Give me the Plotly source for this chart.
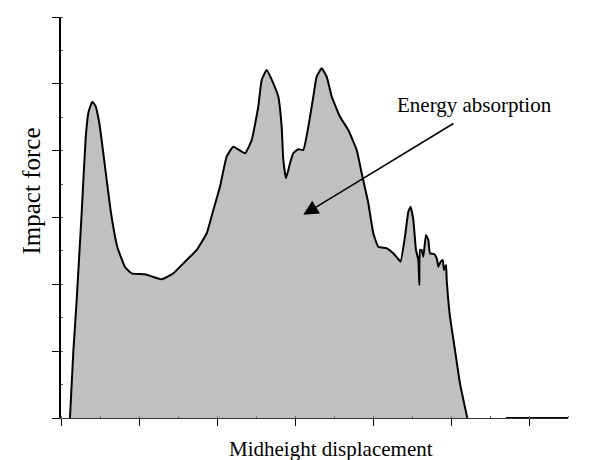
import plotly.graph_objects as go

# Midheight displacement (arbitrary units) and impact force (arbitrary units)
displacement = [
    0.115, 0.158, 0.201, 0.265, 0.317, 0.353, 0.401, 0.442, 0.491, 0.586,
    0.641, 0.722, 0.821, 0.906, 1.077, 1.291, 1.440, 1.590, 1.740, 1.868,
    1.953, 2.038, 2.124, 2.209, 2.359, 2.445, 2.529, 2.573, 2.637, 2.722,
    2.786, 2.829, 2.850, 2.885, 2.936, 2.978, 3.042, 3.106, 3.171, 3.235,
    3.278, 3.342, 3.406, 3.471, 3.577, 3.683, 3.791, 3.855, 3.940, 4.004,
    4.068, 4.176, 4.260, 4.324, 4.353, 4.410, 4.453, 4.483, 4.517, 4.551,
    4.581, 4.594, 4.603, 4.624, 4.645, 4.679, 4.709, 4.731, 4.782, 4.817,
    4.837, 4.868, 4.894, 4.910, 4.936, 4.945, 4.987, 5.051, 5.115, 5.209,
]
force = [
    0.000, 0.992, 1.766, 3.068, 4.205, 4.579, 4.733, 4.669, 4.414, 3.561,
    3.068, 2.559, 2.259, 2.165, 2.150, 2.075, 2.165, 2.339, 2.514, 2.764,
    3.112, 3.461, 3.910, 4.060, 3.961, 4.160, 4.658, 5.058, 5.207, 5.008,
    4.808, 4.359, 3.861, 3.587, 3.811, 3.961, 4.021, 4.010, 4.359, 4.808,
    5.107, 5.233, 5.107, 4.808, 4.508, 4.309, 4.010, 3.662, 3.213, 2.764,
    2.563, 2.539, 2.464, 2.379, 2.339, 2.713, 3.087, 3.162, 2.963, 2.514,
    2.364, 1.990, 2.514, 2.514, 2.414, 2.738, 2.663, 2.464, 2.454, 2.390,
    2.264, 2.339, 2.364, 2.215, 2.289, 2.065, 1.516, 1.017, 0.519, 0.000,
]

# Residual zero-force tail after failure
tail_displacement = [5.705, 6.5]
tail_force = [0.0, 0.0]

x_ticks = [0, 1, 2, 3, 4, 5, 6]
y_ticks = [0, 1, 2, 3, 4, 5, 6]

serif = "Liberation Serif"

fig = go.Figure()
fig.add_trace(go.Scatter(
    x=displacement, y=force, mode="lines", fill="tozeroy",
    fillcolor="#c0c0c0", line=dict(color="black", width=2, shape="spline", smoothing=0.4),
    hoverinfo="skip", showlegend=False,
))
fig.add_trace(go.Scatter(
    x=tail_displacement, y=tail_force, mode="lines",
    line=dict(color="black", width=2), hoverinfo="skip", showlegend=False,
))

fig.update_layout(
    width=601, height=460,
    margin=dict(l=61, r=33, t=17, b=42),
    paper_bgcolor="white", plot_bgcolor="white",
    xaxis=dict(
        range=[0, 6.5], tickvals=x_ticks, showticklabels=False,
        ticks="outside", ticklen=7, tickwidth=1.3, tickcolor="black",
        showline=True, linecolor="#333", linewidth=1,
        showgrid=False, zeroline=False,
        minor=dict(dtick=0.5, tick0=0, ticks="inside", ticklen=2, tickcolor="#777", showgrid=False),
    ),
    yaxis=dict(
        range=[0, 6], tickvals=y_ticks, showticklabels=False,
        ticks="outside", ticklen=7, tickwidth=1.3, tickcolor="black",
        showline=True, linecolor="black", linewidth=1.5,
        showgrid=False, zeroline=False,
        minor=dict(dtick=0.5, tick0=0, ticks="inside", ticklen=2, tickcolor="#555", showgrid=False),
    ),
    annotations=[
        dict(
            x=3.106, y=3.04, xref="x", yref="y",
            ax=5.05, ay=4.42, axref="x", ayref="y",
            text="", showarrow=True, arrowhead=2, arrowsize=2,
            arrowwidth=1.5, arrowcolor="black", standoff=0,
        ),
        dict(
            x=5.295, y=4.69, xref="x", yref="y", text="Energy absorption",
            showarrow=False, font=dict(family=serif, size=21, color="#000000"),
            xanchor="center", yanchor="middle",
        ),
        dict(
            x=0.5335, y=-0.0773, xref="paper", yref="paper",
            text="Midheight displacement", showarrow=False,
            font=dict(family=serif, size=21, color="#000000"),
            xanchor="center", yanchor="middle",
        ),
        dict(
            x=-0.059, y=0.565, xref="paper", yref="paper",
            text="Impact force", showarrow=False, textangle=-90,
            font=dict(family=serif, size=25, color="#000000"),
            xanchor="center", yanchor="middle",
        ),
    ],
)

fig.write_html("out.html")
